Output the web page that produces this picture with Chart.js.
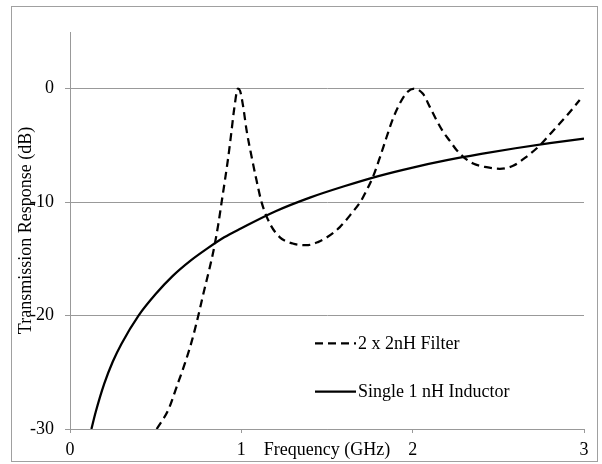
<!DOCTYPE html>
<html><head><meta charset="utf-8">
<script src="https://cdn.jsdelivr.net/npm/chart.js@4.4.1/dist/chart.umd.min.js"></script>
<style>html,body{margin:0;padding:0;background:#fff}canvas{display:block}</style>
</head><body>
<canvas id="c" width="602" height="464"></canvas>
<script>
// ---- data ----
const filterFreq = [0.506,0.574,0.622,0.671,0.710,0.749,0.778,0.807,0.836,0.865,0.885,0.904,0.924,0.943,0.959,0.980,0.993,1.011,1.031,1.060,1.089,1.118,1.167,1.225,1.300,1.380,1.450,1.500,1.575,1.643,1.698,1.730,1.770,1.810,1.847,1.886,1.925,1.965,2.010,2.060,2.100,2.140,2.178,2.217,2.256,2.295,2.353,2.431,2.509,2.586,2.664,2.742,2.820,2.898,2.975];
const filterDb   = [-30.0,-28.3,-26.3,-24.2,-22.3,-20.0,-18.1,-16.3,-14.4,-12.0,-10.0,-8.1,-6.0,-3.7,-1.7,0.0,-0.2,-1.6,-3.7,-6.0,-8.1,-10.0,-11.9,-13.1,-13.65,-13.8,-13.5,-13.1,-12.2,-11.0,-9.9,-9.0,-7.7,-6.0,-4.3,-2.6,-1.3,-0.35,0.0,-0.45,-1.6,-2.8,-3.8,-4.6,-5.4,-6.0,-6.6,-6.92,-7.06,-6.8,-6.0,-5.0,-3.7,-2.4,-1.0];
const inductorFreq = [0.125,0.15,0.2,0.25,0.3,0.4,0.5,0.6,0.7,0.8,0.9,1.0,1.2,1.4,1.6,1.8,2.0,2.2,2.4,2.6,2.8,3.0];
const inductorDb   = [-30.0,-28.5,-26.0,-24.05,-22.5,-20.0,-18.1,-16.5,-15.2,-14.1,-13.1,-12.3,-10.8,-9.6,-8.6,-7.7,-6.95,-6.3,-5.75,-5.25,-4.8,-4.4];
const seriesNames = ['2 x 2nH Filter', 'Single 1 nH Inductor'];
const xTickValues = [0, 1, 2, 3];
const yTickValues = [-30, -20, -10, 0];
const xTitle = 'Frequency (GHz)';
const yTitle = 'Transmission Response (dB)';

const FONT = "'Liberation Serif','Times New Roman',serif";
const toPts = (xs, ys) => xs.map((x, i) => ({x: x, y: ys[i]}));

const framePlugin = {
  id: 'frame',
  beforeDraw(chart) {
    const ctx = chart.ctx;
    ctx.save();
    ctx.fillStyle = '#fff';
    ctx.fillRect(0, 0, chart.width, chart.height);
    ctx.strokeStyle = '#a0a0a0';
    ctx.lineWidth = 1;
    ctx.strokeRect(11.5, 6.5, 586, 455);
    ctx.restore();
  }
};

const legendPlugin = {
  id: 'inlineLegend',
  afterDatasetsDraw(chart) {
    const ctx = chart.ctx, a = chart.chartArea;
    const rows = [311.3, 359.7];
    ctx.save();
    chart.data.datasets.forEach((ds, i) => {
      const y = a.top + rows[i];
      ctx.beginPath();
      ctx.setLineDash(ds.borderDash || []);
      ctx.lineWidth = ds.borderWidth;
      ctx.strokeStyle = ds.borderColor;
      ctx.moveTo(a.left + 245, y);
      ctx.lineTo(a.left + 286, y);
      ctx.stroke();
      ctx.setLineDash([]);
      ctx.fillStyle = '#000';
      ctx.font = '18px ' + FONT;
      ctx.textAlign = 'left';
      ctx.textBaseline = 'middle';
      ctx.fillText(ds.label, a.left + 288, y + 1);
    });
    ctx.restore();
  }
};

new Chart(document.getElementById('c'), {
  type: 'line',
  data: {
    datasets: [
      { label: seriesNames[0], data: toPts(filterFreq, filterDb), borderColor: '#000', borderWidth: 2.25,
        borderDash: [8, 5], pointRadius: 0, cubicInterpolationMode: 'monotone', fill: false },
      { label: seriesNames[1], data: toPts(inductorFreq, inductorDb), borderColor: '#000', borderWidth: 2.25,
        pointRadius: 0, cubicInterpolationMode: 'monotone', fill: false }
    ]
  },
  options: {
    responsive: false,
    animation: false,
    devicePixelRatio: 1,
    layout: { padding: { left: 15, top: 32, right: 18, bottom: 3 } },
    plugins: { legend: { display: false }, tooltip: { enabled: false } },
    scales: {
      x: {
        type: 'linear', min: 0, max: 3,
        afterBuildTicks: s => { s.ticks = xTickValues.map(v => ({value: v})); },
        afterFit: s => { s.height = 32; },
        grid: { drawOnChartArea: false, drawTicks: true, tickLength: 4, color: '#999' },
        border: { display: true, color: '#999', width: 1 },
        ticks: { color: '#000', font: { family: FONT, size: 18 }, padding: 6, maxRotation: 0 },
        title: { display: true, text: xTitle, color: '#000', font: { family: FONT, size: 18 }, padding: 0 }
      },
      y: {
        type: 'linear', min: -30, max: 5,
        afterBuildTicks: s => { s.ticks = yTickValues.map(v => ({value: v})); },
        afterFit: s => { s.width = 55; },
        grid: { color: '#999', drawTicks: true, tickLength: 5 },
        border: { display: true, color: '#999', width: 1 },
        ticks: { color: '#000', font: { family: FONT, size: 18 }, padding: 11 },
        title: { display: true, text: yTitle, color: '#000', font: { family: FONT, size: 18 }, padding: 0 }
      }
    }
  },
  plugins: [framePlugin, legendPlugin]
});
</script>
</body></html>
